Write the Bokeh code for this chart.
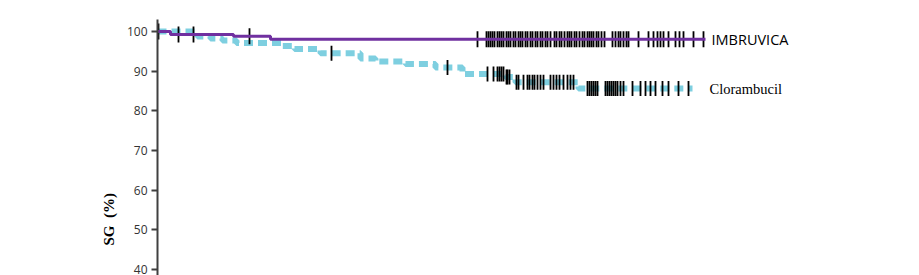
import numpy as np
from bokeh.plotting import figure
from bokeh.models import Range1d, FixedTicker, Label, Title
from bokeh.embed import file_html
from bokeh.resources import INLINE

# --- data (months, overall survival %) ---
ibr_times = [0, 0.65, 3.8, 5.65]
ibr_surv = [100, 99.2, 98.8, 98.0]
ibr_end = 27.4
ibr_censor = [0.05, 1.05, 1.8, 4.6, 16.0, 16.45, 16.55, 16.65, 16.75, 16.85, 17.0, 17.1,
              17.2, 17.3, 17.45, 17.55, 17.65, 17.8, 17.9, 18.05, 18.15, 18.25, 18.4, 18.5,
              18.65, 18.75, 18.9, 19.0, 19.15, 19.25, 19.4, 19.5, 19.65, 19.85, 19.95, 20.1,
              20.2, 20.35, 20.5, 20.6, 20.7, 20.85, 20.95, 21.1, 21.25, 21.35, 21.5, 21.6,
              21.7, 21.8, 21.95, 22.05, 22.2, 22.35, 22.75, 22.9, 23.05, 23.15, 23.3, 23.45,
              23.55, 24.05, 24.55, 24.8, 25.0, 25.15, 25.3, 25.55, 25.9, 26.1, 26.3, 26.8, 27.3]

clb_times = [0, 2.0, 2.65, 3.25, 3.95, 6.25, 6.85, 8.15, 10.15, 10.9, 12.4, 13.9, 15.25,
             17.4, 17.9, 21.05]
clb_surv = [100, 98.7, 98.2, 97.7, 97.1, 96.3, 95.6, 94.5, 93.2, 92.4, 91.8, 90.9, 89.3,
            88.5, 87.2, 85.6]
clb_end = 26.75
clb_censor = [8.7, 14.5, 16.5, 16.8, 17.0, 17.1, 17.2, 17.3, 17.45, 17.5, 17.6, 17.95, 18.05,
              18.3, 18.5, 18.6, 18.75, 18.85, 19.0, 19.15, 19.3, 19.65, 19.8, 19.95, 20.1,
              20.3, 20.5, 20.65, 20.8, 21.5, 21.6, 21.7, 21.8, 21.9, 22.0, 22.4, 22.5, 22.6,
              22.7, 22.8, 22.9, 23.0, 23.15, 23.3, 23.75, 24.15, 24.4, 24.65, 24.9, 25.25,
              25.55, 26.05, 26.55]

y_ticks = [40, 50, 60, 70, 80, 90, 100]
y_label = "SG\u00a0\u00a0(%)"
names = ["IMBRUVICA", "Clorambucil"]

PURPLE = "#7030A0"
BLUE = "#7ECFE0"


def surv_at(times, surv, t):
    idx = np.searchsorted(np.array(times), np.array(t), side="right") - 1
    return list(np.array(surv)[idx])


p = figure(width=919, height=275, output_backend="svg", toolbar_location=None,
           x_range=Range1d(0, 38.1), y_range=Range1d(38.54, 103.0),
           min_border_left=157, min_border_right=0, min_border_top=19, min_border_bottom=0)
p.outline_line_color = None
p.xgrid.visible = False
p.ygrid.visible = False
p.xaxis.visible = False
p.background_fill_color = "white"
p.border_fill_color = "white"

# Clorambucil curve
p.step(clb_times + [clb_end], clb_surv + [clb_surv[-1]], mode="after",
       line_color=BLUE, line_width=6, line_dash="9 5", line_cap="butt")
p.scatter(clb_censor, surv_at(clb_times, clb_surv, clb_censor), marker="dash",
          angle=np.pi / 2, size=15, line_color="black", line_width=1.8)

# IMBRUVICA curve
p.scatter(ibr_censor, surv_at(ibr_times, ibr_surv, ibr_censor), marker="dash",
          angle=np.pi / 2, size=16, line_color="black", line_width=1.8)
p.step(ibr_times + [ibr_end], ibr_surv + [ibr_surv[-1]], mode="after",
       line_color=PURPLE, line_width=3)

yax = p.yaxis[0]
yax.ticker = FixedTicker(ticks=y_ticks)
yax.axis_line_color = "#404040"
yax.axis_line_width = 2
yax.major_tick_line_color = "#404040"
yax.major_tick_line_width = 2
yax.major_tick_out = 6
yax.major_tick_in = 0
yax.minor_tick_line_color = None
yax.major_label_text_font = "Open Sans"
yax.major_label_text_font_size = "12px"
yax.major_label_text_color = "#333333"
yax.major_label_standoff = 4

p.add_layout(Title(text=y_label, align="left", offset=30, standoff=14,
                   text_font="Liberation Serif", text_font_style="bold",
                   text_font_size="15px", text_color="black"), "left")
p.add_layout(Label(x=27.7, y=ibr_surv[-1], text=names[0], text_align="left",
                   text_baseline="middle", text_font="Open Sans",
                   text_font_size="14.5px", text_color="black"))
p.add_layout(Label(x=27.6, y=85.4, text=names[1], text_align="left",
                   text_baseline="middle", text_font="Liberation Serif",
                   text_font_size="14.5px", text_color="black"))

open("out.html", "w").write(file_html(p, INLINE))
